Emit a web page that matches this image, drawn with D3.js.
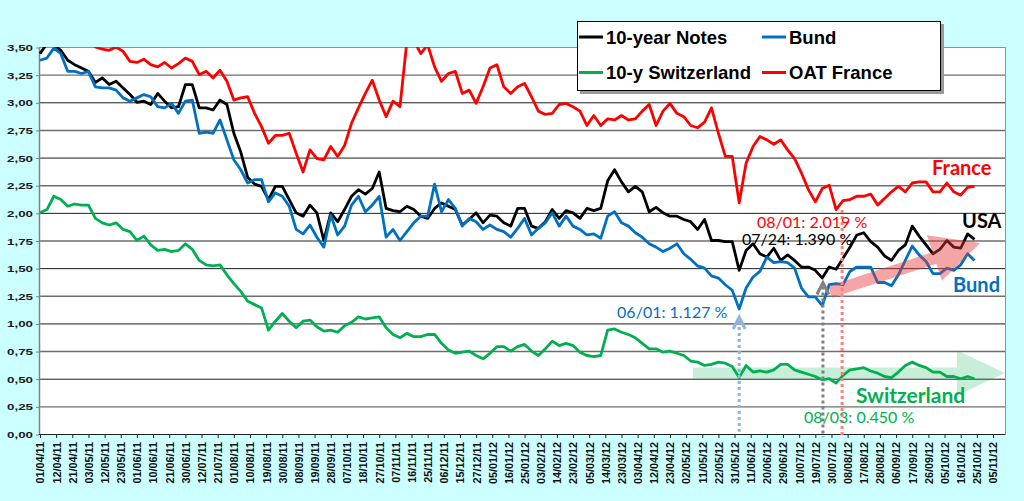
<!DOCTYPE html>
<html>
<head>
<meta charset="utf-8">
<script src="https://cdn.jsdelivr.net/npm/d3@7"></script>
<style>
  body { margin: 0; background: #ccffff; }
  svg { display: block; }
</style>
</head>
<body>
<svg id="chart" width="1024" height="501"></svg>
<script>
// x axis is a business-day category axis, one label every 7 days
var tickLabels = ["01/04/11","12/04/11","21/04/11","03/05/11","12/05/11","23/05/11","01/06/11","10/06/11","21/06/11","30/06/11",
  "12/07/11","21/07/11","01/08/11","10/08/11","19/08/11","30/08/11","08/09/11","19/09/11","28/09/11","07/10/11",
  "18/10/11","27/10/11","07/11/11","16/11/11","25/11/11","06/12/11","15/12/11","27/12/11","05/01/12","16/01/12",
  "25/01/12","03/02/12","14/02/12","23/02/12","05/03/12","14/03/12","23/03/12","03/04/12","12/04/12","23/04/12",
  "02/05/12","11/05/12","22/05/12","31/05/12","11/06/12","20/06/12","29/06/12","10/07/12","19/07/12","30/07/12",
  "08/08/12","17/08/12","28/08/12","06/09/12","17/09/12","26/09/12","05/10/12","16/10/12","25/10/12","05/11/12"];
var TICK_STEP = 7;     // business days between labels
var SAMPLE_STEP = 3;   // business days between the values below

// yields (%), one value every 3 business days from 01/04/11
var notes = [3.44,3.53,3.52,3.47,3.38,3.34,3.31,3.28,3.18,3.22,
  3.16,3.19,3.13,3.07,3.00,3.01,2.98,3.08,3.01,2.95,
  2.96,3.16,3.16,2.95,2.95,2.93,3.02,2.98,2.72,2.55,
  2.32,2.26,2.24,2.12,2.24,2.24,2.12,2.00,1.97,2.07,
  2.00,1.75,2.00,1.92,2.03,2.15,2.21,2.17,2.22,2.37,
  2.04,2.02,2.01,2.06,2.03,1.97,1.95,2.04,2.09,2.06,
  2.03,1.89,1.94,2.00,1.91,1.98,1.97,1.91,1.88,2.04,
  2.04,1.88,1.86,1.92,2.03,1.95,2.02,2.00,1.95,2.04,
  2.02,2.04,2.29,2.39,2.28,2.19,2.24,2.19,2.01,2.05,
  2.00,1.97,1.97,1.94,1.92,1.85,1.94,1.75,1.75,1.74,
  1.74,1.48,1.66,1.72,1.63,1.60,1.68,1.57,1.62,1.57,
  1.51,1.51,1.48,1.41,1.51,1.49,1.59,1.69,1.80,1.82,
  1.74,1.69,1.61,1.57,1.66,1.71,1.88,1.79,1.71,1.63,
  1.67,1.75,1.69,1.68,1.81,1.76];

var bund = [3.38,3.40,3.49,3.44,3.28,3.28,3.26,3.28,3.14,3.13,
  3.13,3.11,3.04,3.01,3.04,3.07,3.05,2.96,2.95,2.99,
  2.90,3.01,3.02,2.72,2.73,2.72,2.84,2.66,2.48,2.39,
  2.27,2.30,2.30,2.10,2.18,2.15,2.06,1.85,1.81,1.89,
  1.78,1.69,1.98,1.80,1.88,2.07,2.15,2.01,2.07,2.15,
  1.78,1.85,1.75,1.83,1.91,1.97,1.97,2.26,2.01,2.12,
  2.04,1.88,1.95,1.92,1.85,1.89,1.85,1.83,1.78,1.86,
  1.95,1.80,1.86,1.91,2.00,1.88,1.97,1.88,1.85,1.80,
  1.81,1.77,1.97,2.01,1.91,1.88,1.82,1.78,1.72,1.69,
  1.65,1.68,1.72,1.63,1.58,1.52,1.50,1.43,1.41,1.35,
  1.30,1.13,1.32,1.42,1.47,1.60,1.55,1.56,1.55,1.50,
  1.32,1.24,1.24,1.16,1.35,1.36,1.35,1.47,1.51,1.51,
  1.51,1.37,1.37,1.34,1.44,1.57,1.70,1.62,1.56,1.45,
  1.45,1.50,1.48,1.53,1.63,1.57];

var swiss = [2.00,2.03,2.15,2.12,2.06,2.08,2.07,2.07,1.95,1.91,
  1.89,1.91,1.85,1.83,1.75,1.79,1.71,1.66,1.67,1.65,
  1.66,1.72,1.67,1.57,1.53,1.52,1.53,1.44,1.36,1.29,
  1.20,1.17,1.14,0.94,1.02,1.09,1.02,0.96,1.02,1.03,
  0.97,0.93,0.94,0.92,0.98,1.01,1.06,1.04,1.05,1.06,
  0.96,0.90,0.87,0.91,0.88,0.88,0.90,0.90,0.82,0.76,
  0.73,0.74,0.75,0.71,0.68,0.73,0.79,0.79,0.75,0.79,
  0.81,0.75,0.71,0.77,0.84,0.80,0.82,0.80,0.74,0.71,
  0.70,0.71,0.94,0.95,0.92,0.90,0.87,0.82,0.77,0.77,
  0.74,0.75,0.73,0.71,0.66,0.65,0.62,0.63,0.65,0.64,
  0.61,0.51,0.62,0.56,0.57,0.56,0.58,0.63,0.63,0.58,
  0.56,0.54,0.52,0.49,0.50,0.46,0.53,0.58,0.59,0.60,
  0.57,0.55,0.52,0.51,0.56,0.62,0.65,0.62,0.60,0.56,
  0.56,0.52,0.52,0.50,0.52,0.50];

var oat = [3.62,3.65,3.68,3.66,3.64,3.60,3.58,3.55,3.50,3.48,
  3.47,3.50,3.46,3.37,3.36,3.39,3.34,3.32,3.36,3.31,
  3.35,3.40,3.37,3.25,3.28,3.22,3.29,3.19,3.02,3.04,
  3.05,2.90,2.78,2.63,2.70,2.70,2.72,2.54,2.37,2.57,
  2.49,2.48,2.60,2.51,2.61,2.81,2.95,3.08,3.20,3.02,
  2.87,3.01,2.96,3.55,3.56,3.44,3.52,3.32,3.19,3.26,
  3.28,3.08,3.11,2.99,3.14,3.31,3.34,3.14,3.08,3.14,
  3.17,3.05,2.92,2.89,2.90,2.98,2.99,2.96,2.92,2.79,
  2.88,2.79,2.85,2.84,2.88,2.84,2.85,2.92,2.98,2.79,
  2.92,2.99,2.90,2.87,2.79,2.77,2.82,2.95,2.72,2.51,
  2.51,2.09,2.45,2.60,2.69,2.66,2.62,2.66,2.57,2.49,
  2.36,2.21,2.10,2.22,2.25,2.03,2.11,2.12,2.15,2.15,
  2.17,2.07,2.13,2.19,2.24,2.19,2.27,2.28,2.28,2.19,
  2.19,2.27,2.19,2.16,2.23,2.24];

var seriesNames = ['10-year Notes', 'Bund', '10-y Switzerland', 'OAT France'];
var seriesColors = ['#000000', '#0070c0', '#00b050', '#ff0000'];

// annotations, in axis units (business-day index, yield)
var noteLabels = [
  {text: 'France', i: 386.6, v: 2.34, color: '#ff0000', big: true},
  {text: 'USA', i: 399.6, v: 1.863, color: '#000000', big: true},
  {text: 'Bund', i: 395.7, v: 1.284, color: '#0070c0', big: true},
  {text: 'Switzerland', i: 353.6, v: 0.28, color: '#00b050', big: true},
  {text: '08/03: 0.450 %', i: 331.1, v: 0.099, color: '#00b050'},
  {text: '08/01: 2.019 %', i: 310.7, v: 1.863, color: '#ff0000'},
  {text: '07/24: 1.390 %', i: 304.2, v: 1.709, color: '#000000'},
  {text: '06/01: 1.127 %', i: 250.1, v: 1.049, color: '#0070c0'}
];
var markers = [
  {i: 303, from: 1.058, to: 0.02, color: '#8db4e2', head: true},
  {i: 339.3, from: 1.37, to: -0.03, color: '#808080', head: true},
  {i: 347.6, from: 2.026, to: -0.03, color: '#ff8080', head: false}
];
var trends = [
  {i0: 283, v0: 0.552, i1: 418.2, v1: 0.552, fill: 'rgba(0,176,80,0.22)', w: 5.5, hw: 22.5, hl: 48, top: false},
  {i0: 342.4, v0: 1.284, i1: 407.4, v1: 1.727, fill: 'rgba(230,58,58,0.45)', w: 6, hw: 24, hl: 48, top: true}
];

var svg = d3.select('#chart');
var plot = {left: 39, top: 47, right: 1005, bottom: 434};

var x = d3.scaleLinear().domain([0, 413]).range([40, 993]);
var y = d3.scaleLinear().domain([0, 3.5]).range([plot.bottom, plot.top]);

svg.append('rect').attr('width', 1024).attr('height', 501).attr('fill', '#ccffff');
svg.append('rect')
  .attr('x', plot.left).attr('y', plot.top)
  .attr('width', plot.right - plot.left).attr('height', plot.bottom - plot.top)
  .attr('fill', '#ffffff');

svg.append('defs').append('clipPath').attr('id', 'plotClip')
  .append('rect')
  .attr('x', plot.left).attr('y', plot.top)
  .attr('width', plot.right - plot.left).attr('height', plot.bottom - plot.top);

//------------------------------ grid -------------------------------------------
var yTicks = d3.range(0, 15).map(function (d) { return d * 0.25; });
svg.append('g').selectAll('line')
  .data(yTicks.filter(function (d) { return d > 0 && d < 3.5; }))
  .enter().append('line')
  .attr('x1', plot.left).attr('x2', plot.right)
  .attr('y1', function (d) { return y(d) + 0.5; })
  .attr('y2', function (d) { return y(d) + 0.5; })
  .attr('stroke', function (d, i) { return i % 2 === 0 ? '#6e6e6e' : '#1e1e1e'; })
  .attr('stroke-width', function (d, i) { return i % 2 === 0 ? 1.4 : 1; });

// green frame on top and right
svg.append('path')
  .attr('d', 'M' + plot.left + ',' + (plot.top + 0.5) + 'H' + (plot.right + 0.5) + 'V' + plot.bottom)
  .attr('fill', 'none').attr('stroke', '#55bb55').attr('stroke-width', 1);

//------------------------------ axes -------------------------------------------
var yAxis = svg.append('g')
  .attr('transform', 'translate(' + plot.left + ',0.5)')
  .call(d3.axisLeft(y).tickValues(yTicks).tickSize(3).tickSizeOuter(0)
    .tickFormat(function (d) { return d3.format('.2f')(d).replace('.', ','); }));
yAxis.select('.domain').attr('stroke', '#808080').attr('stroke-width', 1.5);
yAxis.selectAll('.tick line').attr('stroke', '#808080');
yAxis.selectAll('text')
  .attr('x', -6)
  .attr('fill', '#1a1a1a')
  .attr('textLength', 26).attr('lengthAdjust', 'spacingAndGlyphs')
  .style('font-family', '"Liberation Sans", Arial, sans-serif')
  .style('font-size', '9.5px').style('font-weight', 'bold');

var xAxis = svg.append('g')
  .attr('transform', 'translate(0,' + plot.bottom + ')')
  .call(d3.axisBottom(x)
    .tickValues(tickLabels.map(function (d, i) { return i * TICK_STEP; }))
    .tickSize(4).tickSizeOuter(0)
    .tickFormat(function (d, i) { return tickLabels[i]; }));
xAxis.select('.domain').remove();
xAxis.selectAll('.tick line').attr('stroke', '#222');
xAxis.selectAll('text')
  .attr('transform', 'rotate(-90)')
  .attr('x', -8).attr('y', 0).attr('dy', '0.36em')
  .style('text-anchor', 'end')
  .attr('fill', '#111')
  .style('font-family', '"Liberation Sans", Arial, sans-serif')
  .style('font-size', '10.8px').style('font-weight', 'bold');
svg.append('line')
  .attr('x1', plot.left).attr('x2', plot.right + 0.5)
  .attr('y1', plot.bottom + 0.5).attr('y2', plot.bottom + 0.5)
  .attr('stroke', '#222').attr('stroke-width', 1.2);

//------------------------------ trend arrows -----------------------------------
function arrowPoints(t) {
  var p0 = [x(t.i0), y(t.v0)], p1 = [x(t.i1), y(t.v1)];
  var dx = p1[0] - p0[0], dy = p1[1] - p0[1], len = Math.sqrt(dx * dx + dy * dy);
  var ux = dx / len, uy = dy / len, nx = -uy, ny = ux;
  var b = [p1[0] - ux * t.hl, p1[1] - uy * t.hl];
  return [
    [p0[0] + nx * t.w, p0[1] + ny * t.w],
    [b[0] + nx * t.w, b[1] + ny * t.w],
    [b[0] + nx * t.hw, b[1] + ny * t.hw],
    p1,
    [b[0] - nx * t.hw, b[1] - ny * t.hw],
    [b[0] - nx * t.w, b[1] - ny * t.w],
    [p0[0] - nx * t.w, p0[1] - ny * t.w]
  ];
}
function drawTrend(t) {
  svg.append('polygon')
    .attr('points', arrowPoints(t).map(function (p) { return p.join(','); }).join(' '))
    .attr('fill', t.fill);
}
trends.filter(function (t) { return !t.top; }).forEach(drawTrend);

//------------------------------ series -----------------------------------------
var line = d3.line()
  .x(function (d, i) { return x(i * SAMPLE_STEP); })
  .y(function (d) { return y(d); });

var lines = svg.append('g').attr('clip-path', 'url(#plotClip)');
[notes, bund, swiss, oat].forEach(function (values, k) {
  lines.append('path')
    .datum(values)
    .attr('d', line)
    .attr('fill', 'none')
    .attr('stroke', seriesColors[k])
    .attr('stroke-width', 2.8)
    .attr('stroke-linejoin', 'round');
});

trends.filter(function (t) { return t.top; }).forEach(drawTrend);

//------------------------------ dotted markers ---------------------------------
markers.forEach(function (m) {
  var mx = x(m.i);
  svg.append('line')
    .attr('x1', mx).attr('x2', mx)
    .attr('y1', y(m.from) + (m.head ? 4 : 0)).attr('y2', y(m.to))
    .attr('stroke', m.color).attr('stroke-width', 3)
    .attr('stroke-dasharray', '3,3');
  if (m.head) {
    var ty = y(m.from);
    svg.append('path')
      .attr('d', 'M' + (mx - 6) + ',' + (ty + 12) + 'L' + mx + ',' + ty + 'L' + (mx + 6) + ',' + (ty + 12))
      .attr('fill', 'none').attr('stroke', m.color).attr('stroke-width', 3)
      .attr('stroke-linejoin', 'miter');
  }
});

//------------------------------ labels -----------------------------------------
svg.append('g').selectAll('text')
  .data(noteLabels)
  .enter().append('text')
  .attr('x', function (d) { return x(d.i); })
  .attr('y', function (d) { return y(d.v); })
  .attr('fill', function (d) { return d.color; })
  .style('font-family', 'Lato, "Open Sans", sans-serif')
  .style('font-weight', function (d) { return d.big ? 'bold' : 'normal'; })
  .style('font-size', function (d) { return d.big ? (d.text === 'Switzerland' ? '21px' : '20px') : '16px'; })
  .text(function (d) { return d.text; });

//------------------------------ legend -----------------------------------------
var legend = svg.append('g');
legend.append('rect').attr('x', 580).attr('y', 24).attr('width', 364).attr('height', 70).attr('fill', '#9a9a9a');
legend.append('rect').attr('x', 577.5).attr('y', 21.5).attr('width', 363).attr('height', 69)
  .attr('fill', '#ffffff').attr('stroke', '#000').attr('stroke-width', 1);
var legendPos = [[579, 37], [762, 37], [579, 72.5], [762, 72.5]];
seriesNames.forEach(function (name, k) {
  var p = legendPos[k];
  legend.append('line')
    .attr('x1', p[0]).attr('x2', p[0] + 24).attr('y1', p[1]).attr('y2', p[1])
    .attr('stroke', seriesColors[k]).attr('stroke-width', 3);
  legend.append('text')
    .attr('x', p[0] + 27).attr('y', p[1] + 6.8)
    .attr('fill', '#000')
    .style('font-family', '"Liberation Sans", Arial, sans-serif')
    .style('font-size', '18.5px').style('font-weight', 'bold')
    .text(name);
});
</script>
</body>
</html>
